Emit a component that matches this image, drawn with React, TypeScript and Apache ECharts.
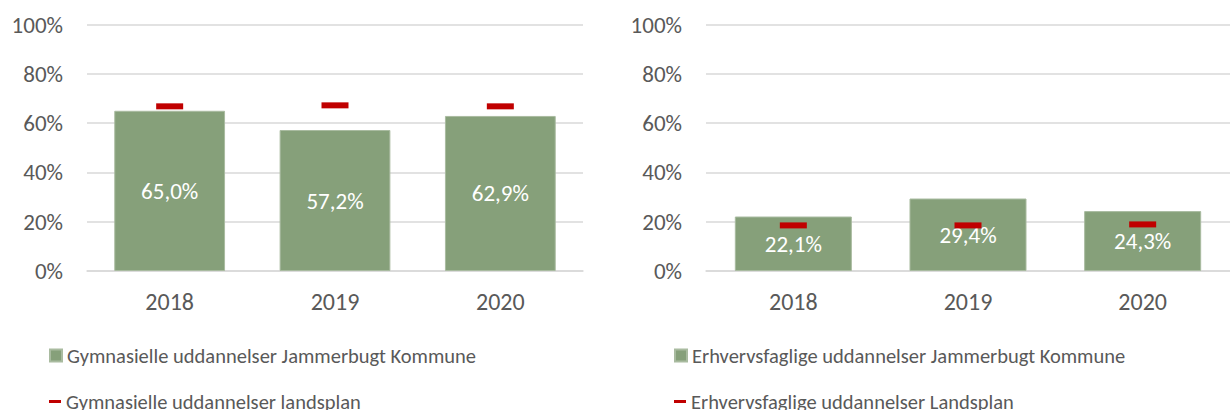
import React, { useEffect, useRef } from "react";
import * as echarts from "echarts";

const years = ["2018", "2019", "2020"];
const gymKommune = [65.0, 57.2, 62.9];
const gymLandsplan = [66.8, 67.2, 66.8];
const erhKommune = [22.1, 29.4, 24.3];
const erhLandsplan = [18.5, 18.5, 18.9];

const nameGymK = "Gymnasielle uddannelser Jammerbugt Kommune";
const nameGymL = "Gymnasielle uddannelser landsplan";
const nameErhK = "Erhvervsfaglige uddannelser Jammerbugt Kommune";
const nameErhL = "Erhvervsfaglige uddannelser Landsplan";

const FONT = "Calibri, Carlito, Lato, 'Open Sans', sans-serif";
const GREEN = "#86A07A";
const RED = "#C00000";
const TXT = "#595959";
const GRID = "#D9D9D9";

export default function App() {
  const ref = useRef<HTMLDivElement>(null);
  useEffect(() => {
    document.body.style.margin = "0";
    const chart = echarts.init(ref.current!, undefined, { renderer: "svg" });
    const fmt = (p: any) => p.value.toFixed(1).replace(".", ",") + "%";
    const yAxis = (gi: number) => ({
      type: "value",
      gridIndex: gi,
      min: 0,
      max: 100,
      interval: 20,
      axisLine: { show: false },
      axisTick: { show: false },
      axisLabel: { formatter: "{value}%", color: TXT, fontSize: 23, fontFamily: FONT, margin: 24 },
      splitLine: { lineStyle: { color: GRID, width: 1.5 } },
    });
    const xAxis = (gi: number) => ({
      type: "category",
      gridIndex: gi,
      data: years,
      axisTick: { show: false },
      axisLine: { lineStyle: { color: GRID, width: 1.5 } },
      axisLabel: { color: TXT, fontSize: 24, fontFamily: FONT, margin: 18 },
    });
    const barSeries = (name: string, data: number[], idx: number) => ({
      type: "bar",
      name,
      xAxisIndex: idx,
      yAxisIndex: idx,
      data,
      barCategoryGap: "33%",
      itemStyle: { color: GREEN, borderColor: "#A9BBA0", borderWidth: 1 },
      label: { show: true, position: "inside", color: "#FFFFFF", fontSize: 23, fontFamily: FONT, formatter: fmt },
      z: 2,
    });
    const markSeries = (name: string, data: number[], idx: number) => ({
      type: "scatter",
      name,
      xAxisIndex: idx,
      yAxisIndex: idx,
      data,
      symbol: "rect",
      symbolSize: [27, 6],
      itemStyle: { color: RED, opacity: 1 },
      z: 5,
    });
    const legend = (name: string, left: number, top: number, h: number) => ({
      data: [name],
      left,
      top,
      orient: "vertical",
      padding: 0,
      icon: "rect",
      itemWidth: 12,
      itemHeight: h,
      itemGap: 0,
      itemStyle: { opacity: 1 },
      textStyle: { color: TXT, fontSize: 20.5, fontFamily: FONT, padding: [0, 0, 0, 0] },
      selectedMode: false,
    });
    chart.setOption({
      animation: false,
      backgroundColor: "#FFFFFF",
      grid: [
        { left: 87, top: 24.5, width: 496, height: 246.5 },
        { left: 706, top: 24.5, width: 536, height: 246.5 },
      ],
      xAxis: [xAxis(0), xAxis(1)],
      yAxis: [yAxis(0), yAxis(1)],
      legend: [
        legend(nameGymK, 49, 345, 12),
        legend(nameGymL, 49, 391, 3),
        legend(nameErhK, 674, 345, 12),
        legend(nameErhL, 674, 391, 3),
      ],
      series: [
        barSeries(nameGymK, gymKommune, 0),
        markSeries(nameGymL, gymLandsplan, 0),
        barSeries(nameErhK, erhKommune, 1),
        markSeries(nameErhL, erhLandsplan, 1),
      ],
    });
    return () => chart.dispose();
  }, []);
  return <div ref={ref} style={{ width: 1230, height: 410 }} />;
}
